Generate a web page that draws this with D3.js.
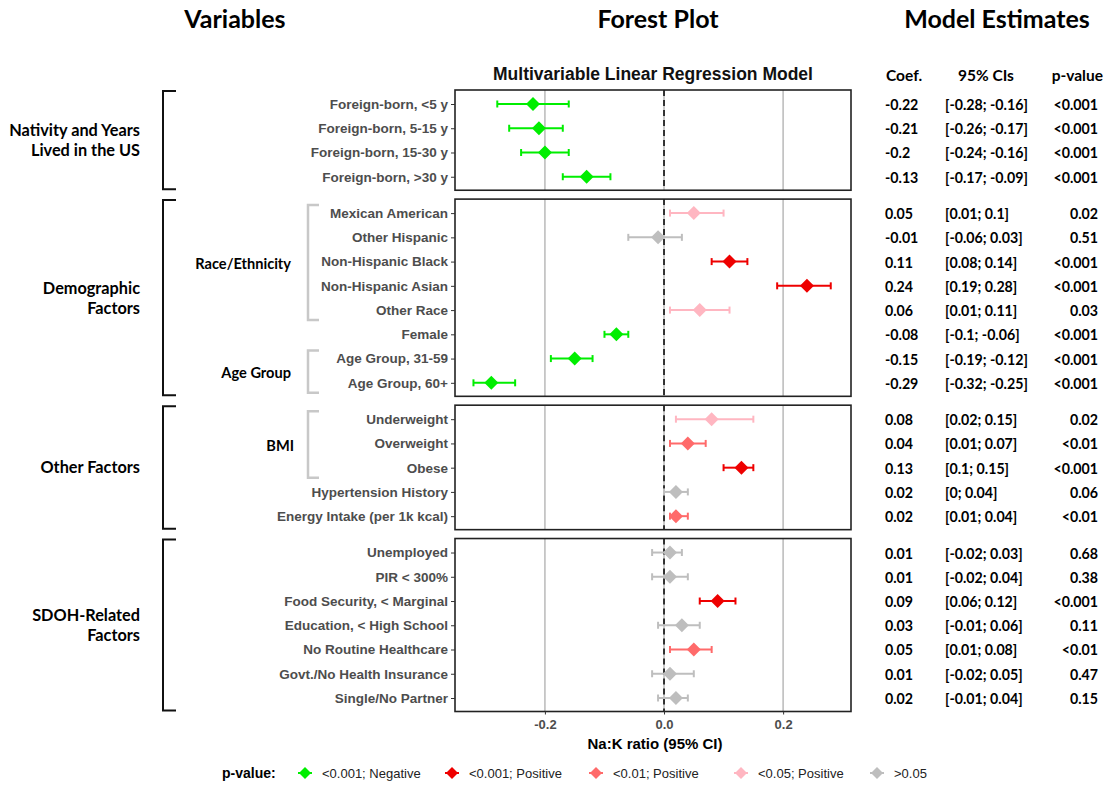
<!DOCTYPE html>
<html>
<head>
<meta charset="utf-8">
<script src="https://cdnjs.cloudflare.com/ajax/libs/d3/7.8.5/d3.min.js"></script>
<style>
  body { margin: 0; background: #fff; }
  svg { display: block; }
</style>
</head>
<body>
<svg id="forest"></svg>
<script>
// data
const variables = [
  "Foreign-born, <5 y", "Foreign-born, 5-15 y", "Foreign-born, 15-30 y", "Foreign-born, >30 y",
  "Mexican American", "Other Hispanic", "Non-Hispanic Black", "Non-Hispanic Asian", "Other Race",
  "Female", "Age Group, 31-59", "Age Group, 60+",
  "Underweight", "Overweight", "Obese", "Hypertension History", "Energy Intake (per 1k kcal)",
  "Unemployed", "PIR < 300%", "Food Security, < Marginal", "Education, < High School",
  "No Routine Healthcare", "Govt./No Health Insurance", "Single/No Partner"
];
const panelOf = [0,0,0,0, 1,1,1,1,1,1,1,1, 2,2,2,2,2, 3,3,3,3,3,3,3];
const coef   = [-0.22,-0.21,-0.2,-0.13, 0.05,-0.01,0.11,0.24,0.06,-0.08,-0.15,-0.29, 0.08,0.04,0.13,0.02,0.02, 0.01,0.01,0.09,0.03,0.05,0.01,0.02];
const ciLow  = [-0.28,-0.26,-0.24,-0.17, 0.01,-0.06,0.08,0.19,0.01,-0.1,-0.19,-0.32, 0.02,0.01,0.1,0,0.01, -0.02,-0.02,0.06,-0.01,0.01,-0.02,-0.01];
const ciHigh = [-0.16,-0.17,-0.16,-0.09, 0.1,0.03,0.14,0.28,0.11,-0.06,-0.12,-0.25, 0.15,0.07,0.15,0.04,0.04, 0.03,0.04,0.12,0.06,0.08,0.05,0.04];
const pValue = ["<0.001","<0.001","<0.001","<0.001", "0.02","0.51","<0.001","<0.001","0.03","<0.001","<0.001","<0.001",
                "0.02","<0.01","<0.001","0.06","<0.01", "0.68","0.38","<0.001","0.11","<0.01","0.47","0.15"];
const sigGroup = ["neg001","neg001","neg001","neg001", "pos05","ns","pos001","pos001","pos05","neg001","neg001","neg001",
                  "pos05","pos01","pos001","ns","pos01", "ns","ns","pos001","ns","pos01","ns","ns"];

const groupNames = [["Nativity and Years", "Lived in the US"], ["Demographic", "Factors"], ["Other Factors"], ["SDOH-Related", "Factors"]];
const subGroupNames = ["Race/Ethnicity", "Age Group", "BMI"];
const subGroupFirst = ["Mexican American", "Age Group, 31-59", "Underweight"];
const subGroupLast = ["Other Race", "Age Group, 60+", "Obese"];

const legendKeys = ["neg001", "pos001", "pos01", "pos05", "ns"];
const legendLabels = ["<0.001; Negative", "<0.001; Positive", "<0.01; Positive", "<0.05; Positive", ">0.05"];
const xTicks = [-0.2, 0, 0.2];

const width = 1107, height = 787;
const svg = d3.select('#forest').attr('width', width).attr('height', height);

const color = d3.scaleOrdinal()
  .domain(legendKeys)
  .range(["#00EE00", "#EE0000", "#FF6A6A", "#FFB6C1", "#BEBEBE"]);

const xScale = d3.scaleLinear().domain([-0.351, 0.314]).range([455, 851]);

// rows are slots; each new panel adds half a slot of gap
const slot = variables.map((v, i) => i + 0.5 * panelOf[i]);
const slotScale = d3.scaleLinear().domain([0, d3.max(slot)]).range([104, 698]);
const yScale = d3.scaleOrdinal().domain(variables).range(slot.map(s => slotScale(s)));

const boldArial = "'Liberation Sans', Arial, sans-serif";
const calibriLike = "Lato, 'Open Sans', sans-serif";

// headers
const headers = [["Variables", 235], ["Forest Plot", 658], ["Model Estimates", 997]];
svg.selectAll('.hdr').data(headers).enter().append('text')
  .attr('x', d => d[1]).attr('y', 28)
  .attr('text-anchor', 'middle')
  .style('font-family', calibriLike).style('font-weight', 'bold').style('font-size', '25px')
  .text(d => d[0]);

svg.append('text')
  .attr('x', 653).attr('y', 80)
  .attr('text-anchor', 'middle')
  .style('font-family', boldArial).style('font-weight', 'bold').style('font-size', '17.5px')
  .style('fill', '#111')
  .text("Multivariable Linear Regression Model");

// panels
const panels = d3.range(4).map(p => {
  const rows = variables.filter((v, i) => panelOf[i] === p);
  return { p: p, rows: rows, top: yScale(rows[0]) - 14, bottom: yScale(rows[rows.length - 1]) + 13.5 };
});

panels.forEach(panel => {
  const g = svg.append('g');
  // grid
  g.selectAll('.grid').data(xTicks).enter().append('line')
    .attr('x1', d => xScale(d)).attr('x2', d => xScale(d))
    .attr('y1', panel.top).attr('y2', panel.bottom)
    .attr('stroke', '#BEBEBE').attr('stroke-width', 1.6);
  // zero dashed line
  g.append('line')
    .attr('x1', xScale(0)).attr('x2', xScale(0))
    .attr('y1', panel.top).attr('y2', panel.bottom)
    .attr('stroke', '#222').attr('stroke-width', 1.8)
    .attr('stroke-dasharray', '6,4');
  // border
  g.append('rect')
    .attr('x', xScale.range()[0]).attr('y', panel.top)
    .attr('width', xScale.range()[1] - xScale.range()[0])
    .attr('height', panel.bottom - panel.top)
    .attr('fill', 'none').attr('stroke', '#222').attr('stroke-width', 1.6);

  // left axis with variable names
  const ax = g.append('g')
    .attr('transform', `translate(${xScale.range()[0]},0)`)
    .call(d3.axisLeft(yScale).tickValues(panel.rows).tickSize(4).tickPadding(3));
  ax.select('.domain').remove();
  ax.selectAll('.tick line').attr('stroke', '#333');
  ax.selectAll('.tick text')
    .style('font-family', boldArial).style('font-weight', 'bold').style('font-size', '13.5px')
    .style('fill', '#4D4D4D');

  // big bracket and group label
  g.append('path')
    .attr('d', `M176,${panel.top + 1} H163 V${panel.bottom - 1} H176`)
    .attr('fill', 'none').attr('stroke', '#111').attr('stroke-width', 2);
  const lines = groupNames[panel.p];
  const midY = (yScale(panel.rows[0]) + yScale(panel.rows[panel.rows.length - 1])) / 2;
  g.selectAll('.grp').data(lines).enter().append('text')
    .attr('x', 140)
    .attr('y', (d, i) => midY + (i - (lines.length - 1) / 2) * 20)
    .attr('dy', '0.35em')
    .attr('text-anchor', 'end')
    .style('font-family', calibriLike).style('font-weight', 'bold').style('font-size', '16.3px')
    .text(d => d);
});

// sub brackets
subGroupNames.forEach((name, i) => {
  const y0 = yScale(subGroupFirst[i]) - 8;
  const y1 = yScale(subGroupLast[i]) + 10;
  svg.append('path')
    .attr('d', `M319,${y0} H308 V${y1} H319`)
    .attr('fill', 'none').attr('stroke', '#C8C8C8').attr('stroke-width', 2.5);
  svg.append('text')
    .attr('x', name === "BMI" ? 294 : 291)
    .attr('y', (yScale(subGroupFirst[i]) + yScale(subGroupLast[i])) / 2 + 2)
    .attr('dy', '0.35em')
    .attr('text-anchor', 'end')
    .style('font-family', calibriLike).style('font-weight', 'bold').style('font-size', '14.6px')
    .text(name);
});

// error bars and diamonds
const rowsData = variables.map((v, i) => ({ v: v, c: coef[i], lo: ciLow[i], hi: ciHigh[i], p: pValue[i], s: sigGroup[i] }));
const marks = svg.append('g');
marks.selectAll('.ci').data(rowsData).enter().append('line')
  .attr('x1', d => xScale(d.lo)).attr('x2', d => xScale(d.hi))
  .attr('y1', d => yScale(d.v)).attr('y2', d => yScale(d.v))
  .attr('stroke', d => color(d.s)).attr('stroke-width', 2);
['lo', 'hi'].forEach(k => {
  marks.selectAll('.cap' + k).data(rowsData).enter().append('line')
    .attr('x1', d => xScale(d[k])).attr('x2', d => xScale(d[k]))
    .attr('y1', d => yScale(d.v) - 3.5).attr('y2', d => yScale(d.v) + 3.5)
    .attr('stroke', d => color(d.s)).attr('stroke-width', 2);
});
const diamond = (cx, cy, r) => `M${cx},${cy - r}L${cx + r},${cy}L${cx},${cy + r}L${cx - r},${cy}Z`;
marks.selectAll('.pt').data(rowsData).enter().append('path')
  .attr('d', d => diamond(xScale(d.c), yScale(d.v), 7))
  .attr('fill', d => color(d.s));

// x axis
const lastPanel = panels[3];
const xAxis = svg.append('g')
  .attr('transform', `translate(0,${lastPanel.bottom})`)
  .call(d3.axisBottom(xScale).tickValues(xTicks).tickSize(3).tickPadding(5)
    .tickFormat(d => d.toFixed(1)));
xAxis.select('.domain').remove();
xAxis.selectAll('.tick line').attr('stroke', '#333');
xAxis.selectAll('.tick text')
  .style('font-family', boldArial).style('font-weight', 'bold').style('font-size', '13px')
  .style('fill', '#4D4D4D');
svg.append('text')
  .attr('x', 655).attr('y', 749)
  .attr('text-anchor', 'middle')
  .style('font-family', boldArial).style('font-weight', 'bold').style('font-size', '15px')
  .text("Na:K ratio (95% CI)");

// model estimates table
const tbl = svg.append('g').style('font-family', calibriLike).style('font-weight', 'bold').style('font-size', '14.2px');
const tblHead = tbl.append('g').style('font-size', '15.5px');
tblHead.append('text').attr('x', 886).attr('y', 81).text("Coef.");
tblHead.append('text').attr('x', 958).attr('y', 81).text("95% CIs");
tblHead.append('text').attr('x', 1103).attr('y', 81).attr('text-anchor', 'end').text("p-value");
tbl.selectAll('.coef').data(rowsData).enter().append('text')
  .attr('x', 885).attr('y', d => yScale(d.v) + 1).attr('dy', '0.35em')
  .text(d => String(d.c));
tbl.selectAll('.ci-txt').data(rowsData).enter().append('text')
  .attr('x', 945).attr('y', d => yScale(d.v) + 1).attr('dy', '0.35em')
  .text(d => `[${d.lo}; ${d.hi}]`);
tbl.selectAll('.pv').data(rowsData).enter().append('text')
  .attr('x', 1098).attr('y', d => yScale(d.v) + 1).attr('dy', '0.35em')
  .attr('text-anchor', 'end')
  .text(d => d.p);

// legend
const legend = svg.append('g').attr('transform', 'translate(0,773)');
legend.append('text')
  .attr('x', 222).attr('dy', '0.35em')
  .style('font-family', boldArial).style('font-weight', 'bold').style('font-size', '14px')
  .text("p-value:");
const legendX = [305, 452, 596, 741, 877];
legendKeys.forEach((k, i) => {
  legend.append('line')
    .attr('x1', legendX[i] - 7).attr('x2', legendX[i] + 7)
    .attr('stroke', color(k)).attr('stroke-width', 2);
  legend.append('path')
    .attr('d', diamond(legendX[i], 0, 6))
    .attr('fill', color(k));
  legend.append('text')
    .attr('x', legendX[i] + 17).attr('dy', '0.35em')
    .style('font-family', "'Liberation Sans Narrow', 'Liberation Sans', Arial, sans-serif")
    .style('font-size', '13px').style('fill', '#222')
    .text(legendLabels[i]);
});
</script>
</body>
</html>
